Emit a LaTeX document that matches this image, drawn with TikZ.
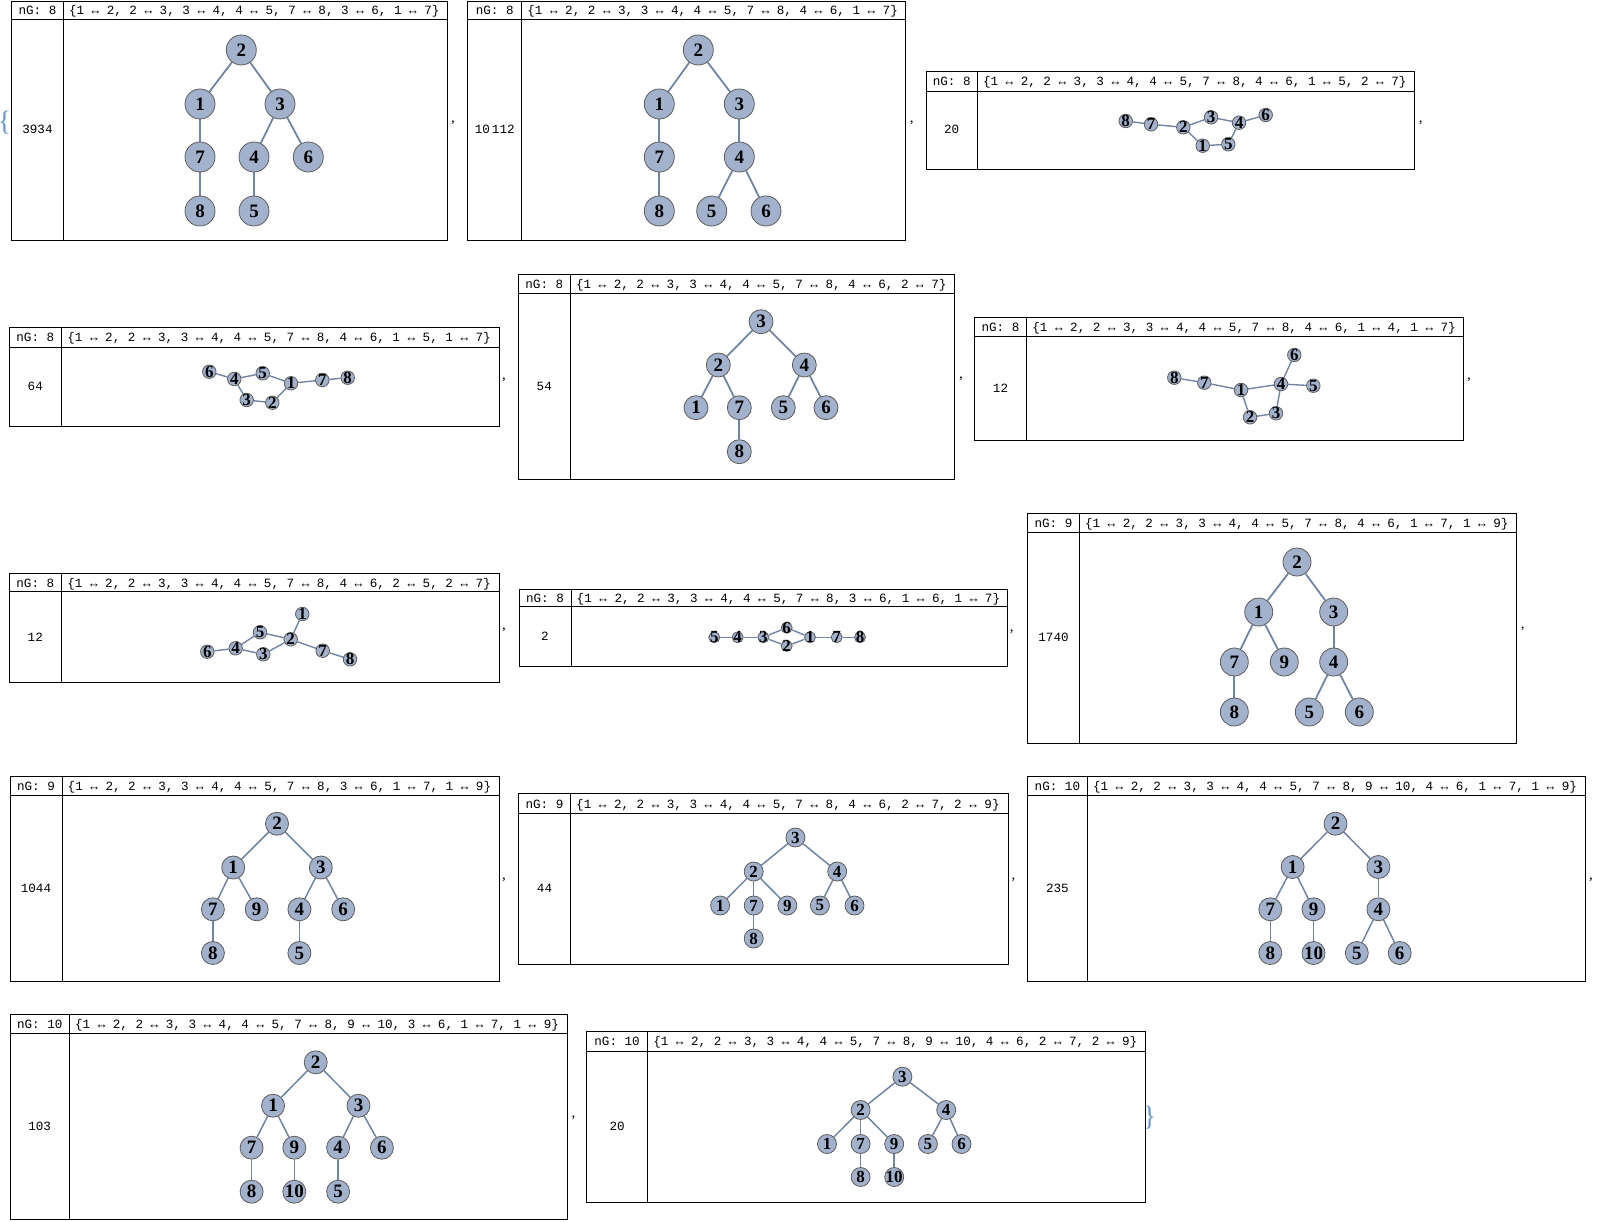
\documentclass[tikz,border=0pt]{standalone}
\usepackage{fontspec}
\setmainfont{Liberation Serif}
\setmonofont{Liberation Mono}
\usepackage{tikz}
\usetikzlibrary{backgrounds}
\definecolor{vtxfill}{HTML}{A3B2CC}
\definecolor{vtxline}{HTML}{5C5C5C}
\definecolor{linkblue}{HTML}{7084A6}
\definecolor{bracecol}{HTML}{6A98CF}
\newcommand{\hdrfont}{\fontsize{12.6}{14}\selectfont\ttfamily}
\newcommand{\vtxfont}{\fontsize{19}{19}\selectfont\bfseries}
\newcommand{\smallvtxfont}{\fontsize{17}{17}\selectfont\bfseries}

\begin{document}
\begin{tikzpicture}[
  x=1pt, y=-1pt,
  frame/.style={draw=black, line width=1pt},
  rule/.style={draw=black, line width=0.8pt},
  hdr/.style={font=\hdrfont, inner sep=0pt, anchor=base},
  edgelist/.style={hdr, anchor=base west},
  sep/.style={font=\fontsize{15}{15}\selectfont, inner sep=0pt},
  curly/.style={font=\fontsize{28}{28}\selectfont, text=bracecol, inner sep=0pt},
  vtx/.style={circle, draw=vtxline, fill=vtxfill, line width=0.8pt, inner sep=0pt, minimum size=#1},
  vlbl/.style={font=\vtxfont, inner sep=0pt},
  svlbl/.style={font=\smallvtxfont, inner sep=0pt},
  link/.style={draw=linkblue, line width=1.8pt},
  midlink/.style={draw=linkblue, line width=1.5pt},
  thinlink/.style={draw=linkblue, line width=1.4pt}
]
\useasboundingbox (0,0) rectangle (1597,1222);

\node[curly] (lbrace) at (4.5,123) {\{};

% 3934
\draw[frame] (11.7,1.5) rectangle (447,241);
\draw[rule] (63.3,1.5) -- (63.3,241) (11.7,19) -- (447,19);
\node[hdr] (p1ng) at (37.5,14.5) {nG: 8};
\node[edgelist] (p1edges) at (68.8,14.5) {\{1 ↔ 2, 2 ↔ 3, 3 ↔ 4, 4 ↔ 5, 7 ↔ 8, 3 ↔ 6, 1 ↔ 7\}};
\node[hdr] (p1count) at (37.5,133.5) {3934};
\foreach \n/\x/\y in {2/241.3/50, 1/200/104, 3/280/104, 7/200/157, 4/254/157, 6/308.3/157, 8/200/211, 5/254/211}
  \node[vtx=30pt, label={[vlbl]center:\n}] (p1v\n) at (\x,\y) {};
\begin{scope}[on background layer]
\foreach \a/\b in {1/2, 2/3, 3/4, 4/5, 7/8, 3/6, 1/7} \draw[link] (p1v\a) -- (p1v\b);
\end{scope}
\node[sep] (c1) at (453,123) {,};

% 10112
\draw[frame] (467.7,1.5) rectangle (905.7,241);
\draw[rule] (521.7,1.5) -- (521.7,241) (467.7,19) -- (905.7,19);
\node[hdr] (p2ng) at (494.7,14.5) {nG: 8};
\node[edgelist] (p2edges) at (527.2,14.5) {\{1 ↔ 2, 2 ↔ 3, 3 ↔ 4, 4 ↔ 5, 7 ↔ 8, 4 ↔ 6, 1 ↔ 7\}};
\node[hdr] (p2count) at (494.7,133.5) {10\,112};
\foreach \n/\x/\y in {2/698.3/50, 1/659.3/104, 3/739.3/104, 7/659.3/157, 4/739.3/157, 8/659.3/211, 5/711.7/211, 6/766/211}
  \node[vtx=30pt, label={[vlbl]center:\n}] (p2v\n) at (\x,\y) {};
\begin{scope}[on background layer]
\foreach \a/\b in {1/2, 2/3, 3/4, 4/5, 7/8, 4/6, 1/7} \draw[link] (p2v\a) -- (p2v\b);
\end{scope}
\node[sep] (c2) at (911.7,123) {,};

% 20 (ring)
\draw[frame] (926,71.7) rectangle (1414.3,169.3);
\draw[rule] (977.3,71.7) -- (977.3,169.3) (926,91) -- (1414.3,91);
\node[hdr] (p3ng) at (951.7,85.5) {nG: 8};
\node[edgelist] (p3edges) at (982.8,85.5) {\{1 ↔ 2, 2 ↔ 3, 3 ↔ 4, 4 ↔ 5, 7 ↔ 8, 4 ↔ 6, 1 ↔ 5, 2 ↔ 7\}};
\node[hdr] (p3count) at (951.7,134) {20};
\foreach \n/\x/\y in {8/1125.7/121, 7/1151/124.3, 2/1183.3/127.3, 3/1211/117.3, 4/1239/122.7, 6/1265.7/115, 1/1202.7/145.7, 5/1228.3/144.3}
  \node[vtx=13.5pt, label={[svlbl]center:\n}] (p3v\n) at (\x,\y) {};
\begin{scope}[on background layer]
\foreach \a/\b in {1/2, 2/3, 3/4, 4/5, 7/8, 4/6, 1/5, 2/7} \draw[thinlink] (p3v\a) -- (p3v\b);
\end{scope}
\node[sep] (c3) at (1420.8,123) {,};

% 64
\draw[frame] (9,327.3) rectangle (499,426);
\draw[rule] (61.7,327.3) -- (61.7,426) (9,347.3) -- (499,347.3);
\node[hdr] (p4ng) at (35.3,341.5) {nG: 8};
\node[edgelist] (p4edges) at (67.2,341.5) {\{1 ↔ 2, 2 ↔ 3, 3 ↔ 4, 4 ↔ 5, 7 ↔ 8, 4 ↔ 6, 1 ↔ 5, 1 ↔ 7\}};
\node[hdr] (p4count) at (35.3,390.5) {64};
\foreach \n/\x/\y in {6/209.3/371.7, 4/234.3/379, 5/262.7/373.3, 1/291/383.3, 7/322.3/380, 8/347.7/377.7, 3/246.7/400, 2/272.3/402.7}
  \node[vtx=13.5pt, label={[svlbl]center:\n}] (p4v\n) at (\x,\y) {};
\begin{scope}[on background layer]
\foreach \a/\b in {1/2, 2/3, 3/4, 4/5, 7/8, 4/6, 1/5, 1/7} \draw[thinlink] (p4v\a) -- (p4v\b);
\end{scope}
\node[sep] (c4) at (504,380) {,};

% 54
\draw[frame] (518.3,275) rectangle (954.3,479.3);
\draw[rule] (570.3,275) -- (570.3,479.3) (518.3,293.3) -- (954.3,293.3);
\node[hdr] (p5ng) at (544.3,288.5) {nG: 8};
\node[edgelist] (p5edges) at (575.8,288.5) {\{1 ↔ 2, 2 ↔ 3, 3 ↔ 4, 4 ↔ 5, 7 ↔ 8, 4 ↔ 6, 2 ↔ 7\}};
\node[hdr] (p5count) at (544.3,390) {54};
\foreach \n/\x/\y in {3/761/321.7, 2/718.3/365, 4/804.3/365, 1/696/407.7, 7/739.3/407.7, 5/783.3/407.7, 6/826/407.7, 8/739.3/451.7}
  \node[vtx=24pt, label={[vlbl]center:\n}] (p5v\n) at (\x,\y) {};
\begin{scope}[on background layer]
\foreach \a/\b in {1/2, 2/3, 3/4, 4/5, 7/8, 4/6, 2/7} \draw[link] (p5v\a) -- (p5v\b);
\end{scope}
\node[sep] (c5) at (961,379) {,};

% 12 (second row)
\draw[frame] (974.3,317.3) rectangle (1463.3,440);
\draw[rule] (1026.7,317.3) -- (1026.7,440) (974.3,336.5) -- (1463.3,336.5);
\node[hdr] (p6ng) at (1000.5,331.3) {nG: 8};
\node[edgelist] (p6edges) at (1032.2,331.3) {\{1 ↔ 2, 2 ↔ 3, 3 ↔ 4, 4 ↔ 5, 7 ↔ 8, 4 ↔ 6, 1 ↔ 4, 1 ↔ 7\}};
\node[hdr] (p6count) at (1000.5,392) {12};
\foreach \n/\x/\y in {6/1294.3/355, 8/1174.3/377.7, 7/1204.3/382.7, 1/1241/390, 4/1281/384, 5/1313.3/385.7, 2/1250/417.3, 3/1276/413.3}
  \node[vtx=13.5pt, label={[svlbl]center:\n}] (p6v\n) at (\x,\y) {};
\begin{scope}[on background layer]
\foreach \a/\b in {1/2, 2/3, 3/4, 4/5, 7/8, 4/6, 1/4, 1/7} \draw[thinlink] (p6v\a) -- (p6v\b);
\end{scope}
\node[sep] (c6) at (1469,380) {,};

% 12 (third row)
\draw[frame] (9,573.3) rectangle (499,682.4);
\draw[rule] (61.7,573.3) -- (61.7,682.4) (9,591.7) -- (499,591.7);
\node[hdr] (p7ng) at (35.3,587) {nG: 8};
\node[edgelist] (p7edges) at (67.2,587) {\{1 ↔ 2, 2 ↔ 3, 3 ↔ 4, 4 ↔ 5, 7 ↔ 8, 4 ↔ 6, 2 ↔ 5, 2 ↔ 7\}};
\node[hdr] (p7count) at (35.3,641) {12};
\foreach \n/\x/\y in {1/302.3/614, 5/260/632.3, 2/290.7/639.3, 4/235.7/648.3, 6/207.3/651.7, 3/263.3/654.3, 7/322.7/650.7, 8/350/659.3}
  \node[vtx=13.5pt, label={[svlbl]center:\n}] (p7v\n) at (\x,\y) {};
\begin{scope}[on background layer]
\foreach \a/\b in {1/2, 2/3, 3/4, 4/5, 7/8, 4/6, 2/5, 2/7} \draw[thinlink] (p7v\a) -- (p7v\b);
\end{scope}
\node[sep] (c7) at (504,630) {,};

% 2
\draw[frame] (519,589) rectangle (1007.3,666.7);
\draw[rule] (571,589) -- (571,666.7) (519,606.7) -- (1007.3,606.7);
\node[hdr] (p8ng) at (545,602.3) {nG: 8};
\node[edgelist] (p8edges) at (576.5,602.3) {\{1 ↔ 2, 2 ↔ 3, 3 ↔ 4, 4 ↔ 5, 7 ↔ 8, 3 ↔ 6, 1 ↔ 6, 1 ↔ 7\}};
\node[hdr] (p8count) at (545,640.5) {2};
\foreach \n/\x/\y in {5/714.3/637.3, 4/737.7/637.3, 3/763.3/637.3, 6/786.7/627.7, 2/786.7/646, 1/810/637.3, 7/836.7/637.3, 8/860/637.3}
  \node[vtx=11pt, label={[svlbl]center:\n}] (p8v\n) at (\x,\y) {};
\begin{scope}[on background layer]
\foreach \a/\b in {1/2, 2/3, 3/4, 4/5, 7/8, 3/6, 1/6, 1/7} \draw[thinlink] (p8v\a) -- (p8v\b);
\end{scope}
\node[sep] (c8) at (1011.7,631.7) {,};

% 1740
\draw[frame] (1027.7,513) rectangle (1516.3,743);
\draw[rule] (1079.3,513) -- (1079.3,743) (1027.7,532) -- (1516.3,532);
\node[hdr] (p9ng) at (1053.5,527) {nG: 9};
\node[edgelist] (p9edges) at (1084.8,527) {\{1 ↔ 2, 2 ↔ 3, 3 ↔ 4, 4 ↔ 5, 7 ↔ 8, 4 ↔ 6, 1 ↔ 7, 1 ↔ 9\}};
\node[hdr] (p9count) at (1053.5,641) {1740};
\foreach \n/\x/\y in {2/1297/562, 1/1258.7/612, 3/1333.7/612, 7/1234.3/662, 9/1284.3/662, 4/1333.7/662, 8/1234.3/712, 5/1309.3/712, 6/1359.3/712}
  \node[vtx=28pt, label={[vlbl]center:\n}] (p9v\n) at (\x,\y) {};
\begin{scope}[on background layer]
\foreach \a/\b in {1/2, 2/3, 3/4, 4/5, 7/8, 4/6, 1/7, 1/9} \draw[link] (p9v\a) -- (p9v\b);
\end{scope}
\node[sep] (c9) at (1522.7,628.4) {,};

% 1044
\draw[frame] (10,776.3) rectangle (499,981);
\draw[rule] (62,776.3) -- (62,981) (10,795.3) -- (499,795.3);
\node[hdr] (p10ng) at (36,790.3) {nG: 9};
\node[edgelist] (p10edges) at (67.5,790.3) {\{1 ↔ 2, 2 ↔ 3, 3 ↔ 4, 4 ↔ 5, 7 ↔ 8, 3 ↔ 6, 1 ↔ 7, 1 ↔ 9\}};
\node[hdr] (p10count) at (36,892) {1044};
\foreach \n/\x/\y in {2/277/823.7, 1/233.2/867.5, 3/320.8/867.5, 7/212.9/909.3, 9/256.7/909.3, 4/299.4/909.3, 6/343.2/909.3, 8/212.9/953, 5/299.4/953}
  \node[vtx=23pt, label={[vlbl]center:\n}] (p10v\n) at (\x,\y) {};
\begin{scope}[on background layer]
\foreach \a/\b in {1/2, 2/3, 3/4, 4/5, 7/8, 3/6, 1/7, 1/9} \draw[midlink] (p10v\a) -- (p10v\b);
\end{scope}
\node[sep] (c10) at (504,880) {,};

% 44
\draw[frame] (518.4,793.7) rectangle (1008.3,964.3);
\draw[rule] (570.5,793.7) -- (570.5,964.3) (518.4,813) -- (1008.3,813);
\node[hdr] (p11ng) at (544.5,808) {nG: 9};
\node[edgelist] (p11edges) at (576,808) {\{1 ↔ 2, 2 ↔ 3, 3 ↔ 4, 4 ↔ 5, 7 ↔ 8, 4 ↔ 6, 2 ↔ 7, 2 ↔ 9\}};
\node[hdr] (p11count) at (544.5,892) {44};
\foreach \n/\x/\y in {3/795.4/837.5, 2/753.7/871.5, 4/837.2/871.5, 1/720.1/905.5, 7/753.7/905.5, 9/787.3/905.5, 5/819.9/905.5, 6/854.5/905.5, 8/753.7/938.5}
  \node[vtx=19pt, label={[svlbl]center:\n}] (p11v\n) at (\x,\y) {};
\begin{scope}[on background layer]
\foreach \a/\b in {1/2, 2/3, 3/4, 4/5, 7/8, 4/6, 2/7, 2/9} \draw[midlink] (p11v\a) -- (p11v\b);
\end{scope}
\node[sep] (c11) at (1013.4,880) {,};

% 235
\draw[frame] (1027.5,776.3) rectangle (1585.7,981);
\draw[rule] (1087.3,776.3) -- (1087.3,981) (1027.5,795.3) -- (1585.7,795.3);
\node[hdr] (p12ng) at (1057.4,790.3) {nG: 10};
\node[edgelist] (p12edges) at (1092.8,790.3) {\{1 ↔ 2, 2 ↔ 3, 3 ↔ 4, 4 ↔ 5, 7 ↔ 8, 9 ↔ 10, 4 ↔ 6, 1 ↔ 7, 1 ↔ 9\}};
\node[hdr] (p12count) at (1057.4,892) {235};
\foreach \n/\x/\y in {2/1335.5/823.7, 1/1292.6/867, 3/1378.4/867, 7/1270.3/909.3, 9/1313.5/909.3, 4/1378.4/909.3, 8/1270.3/953, 10/1313.5/953, 5/1356.8/953, 6/1399.7/953}
  \node[vtx=23pt, label={[vlbl]center:\n}] (p12v\n) at (\x,\y) {};
\begin{scope}[on background layer]
\foreach \a/\b in {1/2, 2/3, 3/4, 4/5, 7/8, 9/10, 4/6, 1/7, 1/9} \draw[midlink] (p12v\a) -- (p12v\b);
\end{scope}
\node[sep] (c12) at (1590.9,880) {,};

% 103
\draw[frame] (10,1014.3) rectangle (567.3,1219);
\draw[rule] (69.4,1014.3) -- (69.4,1219) (10,1033.3) -- (567.3,1033.3);
\node[hdr] (p13ng) at (39.7,1028.3) {nG: 10};
\node[edgelist] (p13edges) at (74.9,1028.3) {\{1 ↔ 2, 2 ↔ 3, 3 ↔ 4, 4 ↔ 5, 7 ↔ 8, 9 ↔ 10, 3 ↔ 6, 1 ↔ 7, 1 ↔ 9\}};
\node[hdr] (p13count) at (39.7,1130) {103};
\foreach \n/\x/\y in {2/315.7/1062.3, 1/273/1105.7, 3/358.5/1105.7, 7/251.6/1147.7, 9/294.3/1147.7, 4/338.1/1147.7, 6/381.9/1147.7, 8/251.6/1191.7, 10/294.3/1191.7, 5/338.1/1191.7}
  \node[vtx=23pt, label={[vlbl]center:\n}] (p13v\n) at (\x,\y) {};
\begin{scope}[on background layer]
\foreach \a/\b in {1/2, 2/3, 3/4, 4/5, 7/8, 9/10, 3/6, 1/7, 1/9} \draw[midlink] (p13v\a) -- (p13v\b);
\end{scope}
\node[sep] (c13) at (573.4,1118.3) {,};

% 20 (last)
\draw[frame] (586.6,1031.7) rectangle (1145.8,1202.3);
\draw[rule] (647.6,1031.7) -- (647.6,1202.3) (586.6,1051) -- (1145.8,1051);
\node[hdr] (p14ng) at (617.1,1045.8) {nG: 10};
\node[edgelist] (p14edges) at (653.1,1045.8) {\{1 ↔ 2, 2 ↔ 3, 3 ↔ 4, 4 ↔ 5, 7 ↔ 8, 9 ↔ 10, 4 ↔ 6, 2 ↔ 7, 2 ↔ 9\}};
\node[hdr] (p14count) at (617.1,1130) {20};
\foreach \n/\x/\y in {3/902.4/1076.7, 2/860.6/1110, 4/946.2/1110, 1/827/1144, 7/860.6/1144, 9/894.2/1144, 5/927.9/1144, 6/961.5/1144, 8/860.6/1177, 10/894.2/1177}
  \node[vtx=19pt, label={[svlbl]center:\n}] (p14v\n) at (\x,\y) {};
\begin{scope}[on background layer]
\foreach \a/\b in {1/2, 2/3, 3/4, 4/5, 7/8, 9/10, 4/6, 2/7, 2/9} \draw[midlink] (p14v\a) -- (p14v\b);
\end{scope}
\node[curly] (rbrace) at (1149.5,1117.3) {\}};
\end{tikzpicture}
\end{document}
